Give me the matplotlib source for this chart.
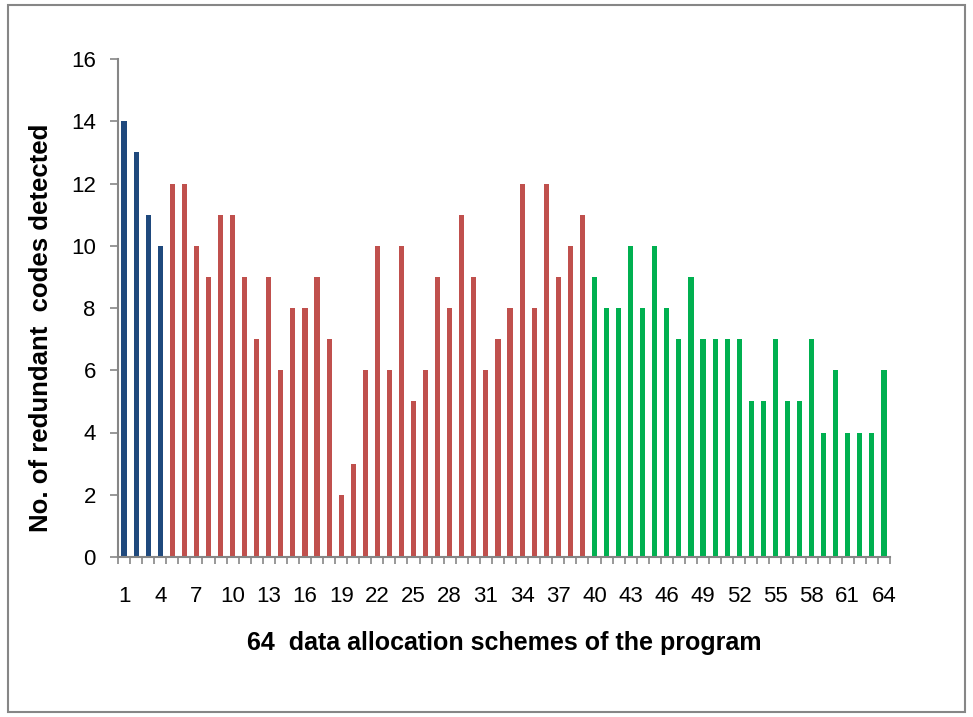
import matplotlib
matplotlib.use("Agg")
import matplotlib.pyplot as plt
from matplotlib.patches import Rectangle
import numpy as np

plt.rcParams['font.family'] = ['Liberation Sans', 'DejaVu Sans']

schemes = list(range(1, 65))
values = [14, 13, 11, 10, 12, 12, 10, 9, 11, 11, 9, 7, 9, 6, 8, 8, 9, 7, 2, 3,
          6, 10, 6, 10, 5, 6, 9, 8, 11, 9, 6, 7, 8, 12, 8, 12, 9, 10, 11, 9,
          8, 8, 10, 8, 10, 8, 7, 9, 7, 7, 7, 7, 5, 5, 7, 5, 5, 7, 4, 6,
          4, 4, 4, 6]
group_colors = {"blue": "#1F497D", "red": "#C0504D", "green": "#00B050"}
groups = ["blue"] * 4 + ["red"] * 35 + ["green"] * 25
xtick_labels = [str(i) for i in range(1, 65, 3)]
yticks = list(range(0, 17, 2))

W, H = 973, 717
fig = plt.figure(figsize=(W / 100, H / 100), dpi=100)
ax = fig.add_axes([118 / W, 1 - 557 / H, (890 - 118) / W, (557 - 59) / H])

ax.bar(schemes, values, width=0.42, color=[group_colors[g] for g in groups])

ax.set_xlim(0.5, 64.5)
ax.set_ylim(0, 16)
ax.set_yticks(yticks)
ax.set_yticklabels([str(v) for v in yticks], fontsize=16)
ax.set_xticks(list(range(1, 65, 3)))
ax.set_xticklabels(xtick_labels, fontsize=16)
ax.set_xticks(np.arange(0.5, 65, 1), minor=True)
ax.tick_params(axis='x', which='major', length=0, pad=21)
ax.tick_params(axis='x', which='minor', length=5, width=1.2, color='#868686', direction='out')
ax.tick_params(axis='y', length=6, width=1.2, color='#868686', direction='out', pad=10)

for side in ['top', 'right']:
    ax.spines[side].set_visible(False)
for side in ['left', 'bottom']:
    ax.spines[side].set_color('#868686')
    ax.spines[side].set_linewidth(1.5)

fig.text(41 / W, 1 - 328 / H, "No. of redundant  codes detected", rotation=90,
         ha='center', va='center', fontsize=18.5, fontweight='bold')
ax.set_xlabel("64  data allocation schemes of the program", fontsize=18, fontweight='bold', labelpad=17)

fig.patches.append(Rectangle((8 / W, 1 - 712 / H), (965 - 8) / W, (712 - 5) / H,
                             transform=fig.transFigure, fill=False,
                             edgecolor='#868686', linewidth=1.5))

fig.savefig("out.png", dpi=100)
